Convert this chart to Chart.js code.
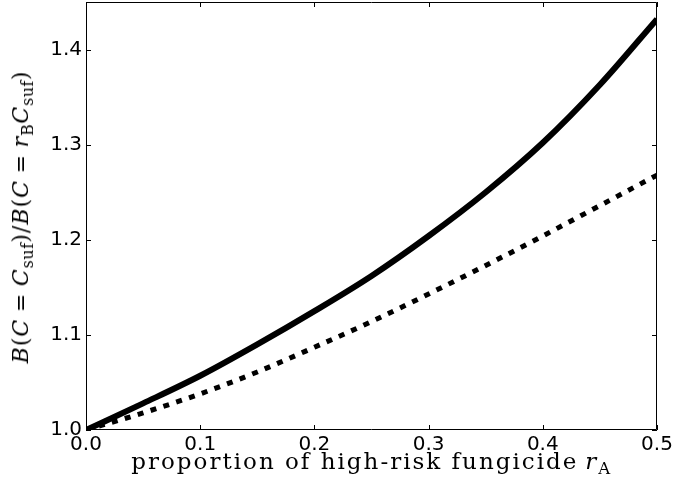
<!DOCTYPE html>
<html>
<head>
<meta charset="utf-8">
<script src="https://cdn.jsdelivr.net/npm/chart.js@4.4.1/dist/chart.umd.min.js"></script>
<style>
  html, body { margin: 0; padding: 0; background: #fff; }
  #wrap { position: relative; width: 676px; height: 490px; overflow: hidden; }
  #c { position: absolute; left: 0; top: 0; }
  .xt { position: absolute; left: 371px; top: 450px; transform: translateX(-50%);
        font-family: "DejaVu Serif", serif; font-size: 23px; line-height: 23px; letter-spacing: 2px;
        white-space: nowrap; color: #000; }
  .yt { position: absolute; left: 21px; top: 217px; transform: translate(-50%, -50%) rotate(-90deg);
        font-family: "DejaVu Serif", serif; font-size: 22px; line-height: 22px; letter-spacing: 1px;
        white-space: nowrap; color: #000; }
  .m { font-style: italic; }
  .eq { margin: 0 0.3em; }
  .ra { margin-left: 0.3em; }
  sub { font-size: 0.72em; line-height: 0; vertical-align: -0.3em; font-style: normal; letter-spacing: 0.5px; }
</style>
</head>
<body>
<div id="wrap">
  <canvas id="c" width="676" height="490"></canvas>
  <div class="xt">proportion of high-risk fungicide<span class="m ra">r</span><sub>A</sub></div>
  <div class="yt"><span class="m">B</span>(<span class="m">C</span><span class="eq">=</span><span class="m">C</span><sub>suf</sub>)/<span class="m">B</span>(<span class="m">C</span><span class="eq">=</span><span class="m">r</span><sub>B</sub><span class="m">C</span><sub>suf</sub>)</div>
</div>
<script>
// proportion of high-risk fungicide r_A
const rValues = [0.00, 0.05, 0.10, 0.15, 0.20, 0.25, 0.30, 0.35, 0.40, 0.45, 0.50];
// solid curve
const solidValues = [1.000, 1.028, 1.057, 1.090, 1.125, 1.162, 1.204, 1.250, 1.302, 1.363, 1.432];
// dashed curve
const dashedValues = [1.000, 1.018, 1.038, 1.061, 1.087, 1.114, 1.143, 1.173, 1.204, 1.236, 1.268];
// tick labels
const xTicks = [0.0, 0.1, 0.2, 0.3, 0.4, 0.5];
const yTicks = [1.0, 1.1, 1.2, 1.3, 1.4];

const toPts = ys => rValues.map((x, i) => ({ x: x, y: ys[i] }));

const frameTicks = {
  id: 'frameTicks',
  afterDraw(chart) {
    const ctx = chart.ctx, a = chart.chartArea;
    const xs = chart.scales.x, ys = chart.scales.y;
    const L = 5;
    ctx.save();
    ctx.strokeStyle = '#000';
    ctx.lineWidth = 1;
    ctx.beginPath();
    ctx.rect(a.left + 0.5, a.top + 0.5, a.right - a.left - 1, a.bottom - a.top - 1);
    ctx.stroke();
    ctx.beginPath();
    xTicks.forEach(v => {
      const px = Math.round(xs.getPixelForValue(v)) + 0.5;
      ctx.moveTo(px, a.bottom); ctx.lineTo(px, a.bottom - L);
      ctx.moveTo(px, a.top); ctx.lineTo(px, a.top + L);
    });
    yTicks.forEach(v => {
      const py = Math.round(ys.getPixelForValue(v)) + 0.5;
      ctx.moveTo(a.left, py); ctx.lineTo(a.left + L, py);
      ctx.moveTo(a.right, py); ctx.lineTo(a.right - L, py);
    });
    ctx.stroke();
    ctx.restore();
  }
};

new Chart(document.getElementById('c'), {
  type: 'line',
  data: {
    datasets: [
      { data: toPts(solidValues), borderColor: '#000', borderWidth: 6, pointRadius: 0,
        cubicInterpolationMode: 'monotone', fill: false, borderCapStyle: 'butt' },
      { data: toPts(dashedValues), borderColor: '#000', borderWidth: 5, pointRadius: 0,
        borderDash: [6, 7.5], cubicInterpolationMode: 'monotone', fill: false, borderCapStyle: 'butt' }
    ]
  },
  options: {
    responsive: false,
    animation: false,
    events: [],
    layout: { padding: { left: 0, right: 19, top: 2, bottom: 0 } },
    plugins: { legend: { display: false }, tooltip: { enabled: false } },
    scales: {
      x: {
        type: 'linear', min: 0, max: 0.5,
        afterBuildTicks: s => { s.ticks = xTicks.map(v => ({ value: v })); },
        afterFit: s => { s.height = 60; s.paddingLeft = 0; s.paddingRight = 0; },
        grid: { display: false, drawTicks: false },
        border: { display: false },
        ticks: { padding: 3, color: '#000', font: { family: 'DejaVu Sans', size: 20 },
                 maxRotation: 0, callback: v => Number(v).toFixed(1) }
      },
      y: {
        type: 'linear', min: 1.0, max: 1.45,
        afterBuildTicks: s => { s.ticks = yTicks.map(v => ({ value: v })); },
        afterFit: s => { s.width = 86; s.paddingTop = 0; s.paddingBottom = 0; },
        grid: { display: false, drawTicks: false },
        border: { display: false },
        ticks: { padding: 4, color: '#000', font: { family: 'DejaVu Sans', size: 20 },
                 callback: v => Number(v).toFixed(1) }
      }
    }
  },
  plugins: [frameTicks]
});
</script>
</body>
</html>
